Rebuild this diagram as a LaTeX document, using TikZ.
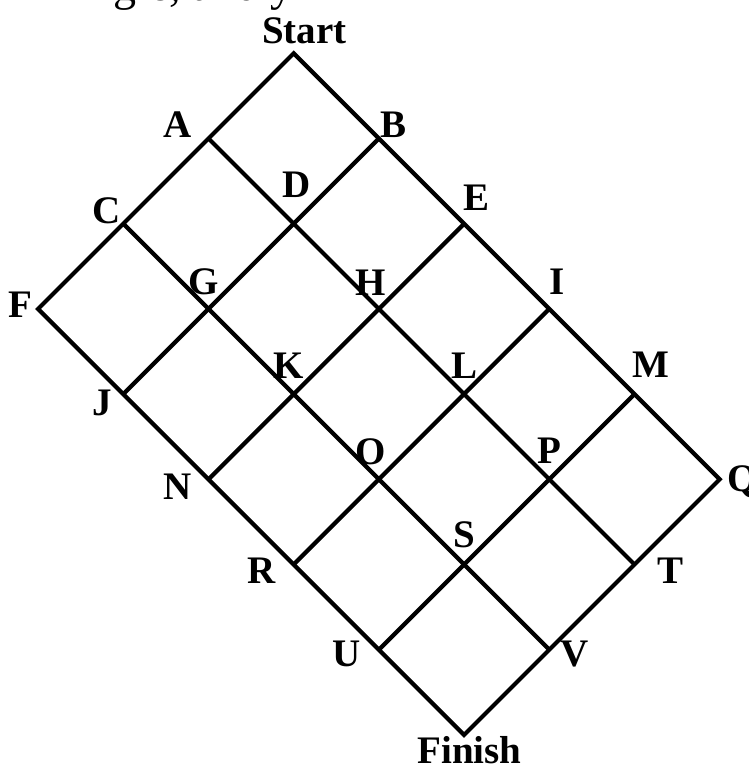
\documentclass[tikz,border=0pt]{standalone}
\usepackage{fontspec}
\setmainfont{Liberation Serif}
\usepackage{tikz}

\begin{document}
\begin{tikzpicture}[
    x=1pt, y=-1pt,
    grid/.style={draw, line width=4.2pt, line join=miter},
    lbl/.style={anchor=base, inner sep=0pt, font=\fontsize{39}{39}\selectfont\bfseries},
    txt/.style={anchor=base west, inner sep=0pt, font=\fontsize{46}{46}\selectfont}
]
    \useasboundingbox (0,0) rectangle (749,766);

    % text of the page above, cut off
    \node[txt] (above) at (90.5,0) {ngle, and y};

    % corners of the grid: (\i,\j) steps down-left and down-right from Start
    \foreach \n/\i/\j in {Start/0/0, A/1/0, B/0/1, C/2/0, D/1/1, E/0/2, F/3/0,
                          G/2/1, H/1/2, I/0/3, J/3/1, K/2/2, L/1/3, M/0/4,
                          N/3/2, O/2/3, P/1/4, Q/0/5, R/3/3, S/2/4, T/1/5,
                          U/3/4, V/2/5, Finish/3/5}
        \coordinate (\n) at ({293.7+85.2*(\j-\i)}, {53.3+85.2*(\i+\j)});

    % outline
    \draw[grid] (Start) -- (Q) -- (Finish) -- (F) -- cycle;

    % inner lines
    \draw[grid] (B) -- (J);
    \draw[grid] (E) -- (N);
    \draw[grid] (I) -- (R);
    \draw[grid] (M) -- (U);
    \draw[grid] (A) -- (T);
    \draw[grid] (C) -- (V);

    % labels
    \node[lbl] (labStart) at (304.5,43) {Start};
    \node[lbl] (labA) at (178,137) {A};
    \node[lbl] (labB) at (393.5,137) {B};
    \node[lbl] (labC) at (107,223) {C};
    \node[lbl] (labD) at (297,197) {D};
    \node[lbl] (labE) at (477,210) {E};
    \node[lbl] (labF) at (20,317) {F};
    \node[lbl] (labG) at (204,294) {G};
    \node[lbl] (labH) at (371,295) {H};
    \node[lbl] (labI) at (557,294) {I};
    \node[lbl] (labJ) at (102,415) {J};
    \node[lbl] (labK) at (289,378) {K};
    \node[lbl] (labL) at (465,378) {L};
    \node[lbl] (labM) at (651,377) {M};
    \node[lbl] (labN) at (178,499) {N};
    \node[lbl] (labO) at (371,464) {O};
    \node[lbl] (labP) at (549,463) {P};
    \node[lbl] (labQ) at (743,491) {Q};
    \node[lbl] (labR) at (262,583) {R};
    \node[lbl] (labS) at (464,547) {S};
    \node[lbl] (labT) at (670,583) {T};
    \node[lbl] (labU) at (347,666) {U};
    \node[lbl] (labV) at (575,666) {V};
    \node[lbl] (labFinish) at (469.5,763) {Finish};
\end{tikzpicture}
\end{document}
